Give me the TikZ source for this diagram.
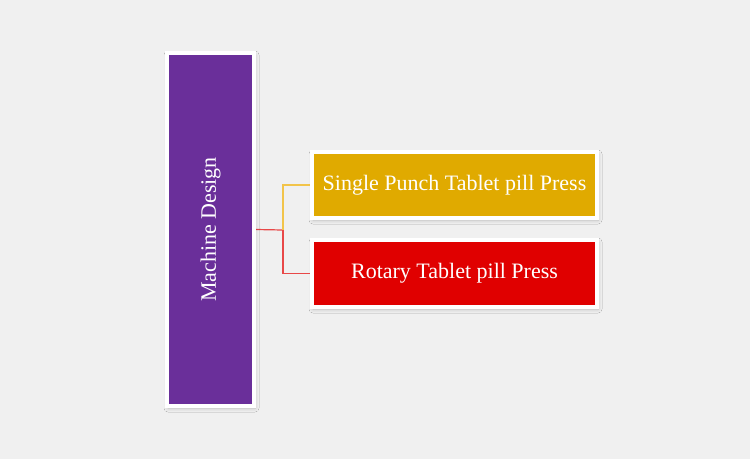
\documentclass[tikz,border=0pt]{standalone}
\usepackage{fontspec}
\setmainfont{Liberation Serif}
\usetikzlibrary{positioning,shadows.blur,backgrounds}
\definecolor{pagebg}{HTML}{F0F0F0}
\definecolor{rootcolor}{HTML}{6A2F9A}
\definecolor{punchcolor}{HTML}{E0AA00}
\definecolor{rotarycolor}{HTML}{E00000}
\definecolor{punchline}{HTML}{F2C44A}
\definecolor{rotaryline}{HTML}{E84848}

\begin{document}
\begin{tikzpicture}[
    x=1pt, y=-1pt,
    box/.style={
        rectangle,
        draw=white,
        line width=4pt,
        inner sep=0pt,
        text=white,
        font=\fontsize{22}{26}\selectfont,
        blur shadow={shadow xshift=1pt, shadow yshift=-2pt, shadow blur radius=4pt, shadow opacity=22, shadow blur steps=8}
    },
    rootbox/.style={box, fill=rootcolor, minimum width=87pt, minimum height=353pt},
    leafbox/.style={box, minimum width=285pt},
    link/.style={line width=1.2pt}
]

% --- NODES ---

% Root
\node[rootbox] (design) at (210.5, 229.5) {};
\node[rotate=90, text=white, font=\fontsize{22}{26}\selectfont] (design_label) at (design.center) {Machine Design};

% Leaves
\node[leafbox, fill=punchcolor, minimum height=66pt] (punch) at (454.5, 185) {Single Punch Tablet pill Press};
\node[leafbox, fill=rotarycolor, minimum height=67pt] (rotary) at (454.5, 273.5) {Rotary Tablet pill Press};

\coordinate (split) at (283, 230);

% --- BACKGROUND & LINKS ---
\begin{scope}[on background layer]
    \fill[pagebg] (0, 0) rectangle (750, 459);
    \draw[link, draw=rotaryline] (design.east) -- (split);
    \draw[link, draw=punchline] (split) |- (punch.west);
    \draw[link, draw=rotaryline] (split) |- (rotary.west);
\end{scope}

\useasboundingbox (0, 0) rectangle (750, 459);

\end{tikzpicture}
\end{document}
